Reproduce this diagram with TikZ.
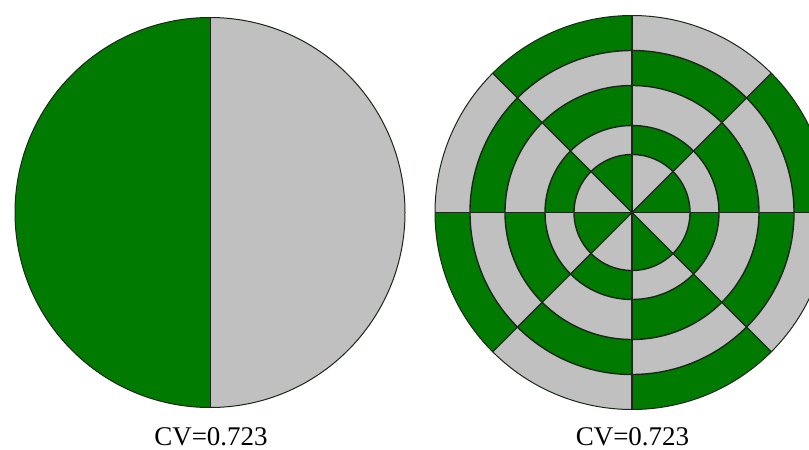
\documentclass[tikz,border=0pt]{standalone}
\usepackage{fontspec}
\setmainfont{Liberation Serif}
\definecolor{cvgreen}{RGB}{0,122,0}
\definecolor{cvgray}{RGB}{192,192,192}
\definecolor{cvline}{RGB}{25,40,25}
\begin{document}
\begin{tikzpicture}[x=1pt,y=-1pt,
  segline/.style={draw=cvline, line width=1pt, line join=round},
  ringline/.style={draw=cvline, line width=1.4pt, line join=round},
  cvlabel/.style={anchor=base, inner sep=0pt, font=\fontsize{27}{30}\selectfont}]
\useasboundingbox (0,0) rectangle (809,450);
\fill[white] (0,0) rectangle (809,450);
\begin{scope}
\clip (0,0) rectangle (809,450);
% left disc: half green, half gray
\begin{scope}[shift={(210,212.5)}, y=1pt]
  \fill[cvgreen] (0,195) arc[start angle=90, end angle=270, radius=195] -- cycle;
  \fill[cvgray] (0,-195) arc[start angle=-90, end angle=90, radius=195] -- cycle;
  \draw[segline] (0,0) circle[radius=195];
  \draw[segline] (0,-195) -- (0,195);
\end{scope}
% right disc: polar checkerboard
\begin{scope}[shift={(632,212.5)}, y=1pt]
  \foreach \i/\ra/\rb in {0/0.01/58, 1/58/87, 2/87/127, 3/127/162, 4/162/197} {
    \foreach \s in {0,...,7} {
      \pgfmathtruncatemacro\cvpar{mod(\i+\s,2)}
      \pgfmathsetmacro\aa{\s*45}
      \pgfmathsetmacro\bb{\s*45+45}
      \ifnum\cvpar=0 \def\col{cvgreen}\else\def\col{cvgray}\fi
      \fill[\col] (\aa:\rb) arc[start angle=\aa, end angle=\bb, radius=\rb]
        -- (\bb:\ra) arc[start angle=\bb, end angle=\aa, radius=\ra] -- cycle;
    }
  }
  \foreach \r in {58,87,127,162} {
    \draw[ringline] (0,0) circle[radius=\r];
  }
  \draw[segline] (0,0) circle[radius=197];
  \foreach \a in {0,45,90,135} {
    \draw[ringline] (\a:197) -- (\a+180:197);
  }
\end{scope}
\end{scope}
\node[cvlabel] (cvleft) at (211,445) {CV=0.723};
\node[cvlabel] (cvright) at (632.5,445) {CV=0.723};
\end{tikzpicture}
\end{document}
